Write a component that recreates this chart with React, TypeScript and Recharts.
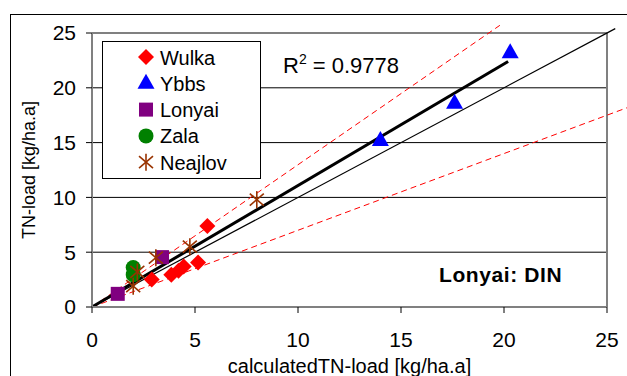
import React from "react";
import { ScatterChart, Scatter, XAxis, YAxis, CartesianGrid, ReferenceLine } from "recharts";

const FONT = "'Liberation Sans', Arial, sans-serif";

const xTicks = [0, 5, 10, 15, 20, 25];
const yTicks = [0, 5, 10, 15, 20, 25];

const wulkaX = [5.6, 5.15, 4.45, 4.2, 3.85, 2.9];
const wulkaY = [7.4, 4.05, 3.7, 3.3, 2.95, 2.5];
const ybbsX = [14.0, 17.6, 20.3];
const ybbsY = [15.2, 18.6, 23.2];
const lonyaiX = [1.25, 3.4];
const lonyaiY = [1.2, 4.55];
const zalaX = [2.0, 2.0];
const zalaY = [3.6, 2.95];
const neajlovX = [8.0, 4.75, 3.1, 2.2, 2.0];
const neajlovY = [9.8, 5.5, 4.5, 3.2, 1.9];

// line end points [x0, x1], [y0, y1]
const trendX = [0, 20.2];
const trendY = [0, 22.4];
const oneX = [0, 25.4];
const oneY = [0, 25.4];
const upperX = [0, 19.8];
const upperY = [0, 25.7];
const lowerX = [0, 26.0];
const lowerY = [0, 18.2];

const rSquared = "0.9778";

const pts = (xs: number[], ys: number[]) => xs.map((x, i) => ({ x, y: ys[i] }));
const seg = (xs: number[], ys: number[]) => [
  { x: xs[0], y: ys[0] },
  { x: xs[1], y: ys[1] },
];

const Diamond = ({ cx, cy }: any) => (
  <polygon points={`${cx},${cy - 8} ${cx + 8},${cy} ${cx},${cy + 8} ${cx - 8},${cy}`} fill="#ff0000" />
);
const Triangle = ({ cx, cy }: any) => (
  <polygon points={`${cx},${cy - 9.5} ${cx + 8.5},${cy + 5.5} ${cx - 8.5},${cy + 5.5}`} fill="#0000ff" />
);
const Square = ({ cx, cy }: any) => <rect x={cx - 7} y={cy - 7} width={14} height={14} fill="#800080" />;
const Circle = ({ cx, cy }: any) => <circle cx={cx} cy={cy} r={7.5} fill="#008000" />;
const Star = ({ cx, cy }: any) => (
  <g stroke="#993300" strokeWidth={1.6}>
    <line x1={cx - 7} y1={cy - 6} x2={cx + 7} y2={cy + 6} />
    <line x1={cx - 7} y1={cy + 6} x2={cx + 7} y2={cy - 6} />
    <line x1={cx} y1={cy - 8.5} x2={cx} y2={cy + 8.5} />
  </g>
);

const series = [
  { name: "Wulka", data: pts(wulkaX, wulkaY), Shape: Diamond },
  { name: "Ybbs", data: pts(ybbsX, ybbsY), Shape: Triangle },
  { name: "Lonyai", data: pts(lonyaiX, lonyaiY), Shape: Square },
  { name: "Zala", data: pts(zalaX, zalaY), Shape: Circle },
  { name: "Neajlov", data: pts(neajlovX, neajlovY), Shape: Star },
];

export default function App() {
  return (
    <div style={{ position: "absolute", left: 0, top: 0, width: 627, height: 376, background: "#fff", fontFamily: FONT }}>
      <div style={{ position: "absolute", left: 10, top: 14, right: 0, bottom: 0, borderLeft: "1px solid #000", borderTop: "1px solid #000" }} />
      <div style={{ position: "absolute", left: 0, top: 0 }}>
        <ScatterChart width={627} height={376} margin={{ top: 33, right: 20, left: 0, bottom: 0 }}>
          <CartesianGrid vertical={false} stroke="#000" strokeWidth={1} />
          <XAxis
            type="number"
            dataKey="x"
            domain={[0, 25]}
            ticks={xTicks}
            height={69}
            axisLine={{ stroke: "#808080", strokeWidth: 2 }}
            tickLine={{ stroke: "#000" }}
            tickSize={6}
            tickMargin={19}
            tick={{ fontSize: 21, fill: "#000", fontFamily: FONT }}
            label={{ value: "calculatedTN-load [kg/ha.a]", position: "insideBottom", offset: 3, fontSize: 20, fill: "#000", fontFamily: FONT }}
          />
          <YAxis
            type="number"
            dataKey="y"
            domain={[0, 25]}
            ticks={yTicks}
            width={92}
            axisLine={{ stroke: "#808080", strokeWidth: 2 }}
            tickLine={{ stroke: "#000" }}
            tickSize={6}
            tickMargin={10}
            tick={{ fontSize: 21, fill: "#000", fontFamily: FONT }}
            label={{ value: "TN-load [kg/ha.a]", angle: -90, position: "insideLeft", offset: 29, style: { textAnchor: "middle" }, fontSize: 18, fill: "#000", fontFamily: FONT }}
          />
          <ReferenceLine y={25} stroke="#808080" strokeWidth={2} />
          <ReferenceLine x={25} stroke="#808080" strokeWidth={2} />
          {series.map((s) => (
            <Scatter key={s.name} name={s.name} data={s.data} isAnimationActive={false} shape={(p: any) => <s.Shape cx={p.cx} cy={p.cy} />} />
          ))}
          <ReferenceLine segment={seg(upperX, upperY)} stroke="#ff0000" strokeDasharray="6 4" ifOverflow="visible" />
          <ReferenceLine segment={seg(lowerX, lowerY)} stroke="#ff0000" strokeDasharray="6 4" ifOverflow="visible" />
          <ReferenceLine segment={seg(oneX, oneY)} stroke="#000" strokeWidth={1.2} ifOverflow="visible" />
          <ReferenceLine segment={seg(trendX, trendY)} stroke="#000" strokeWidth={3} ifOverflow="visible" />
        </ScatterChart>
      </div>
      <svg width={627} height={376} style={{ position: "absolute", left: 0, top: 0, pointerEvents: "none" }}>
        <rect x={102.5} y={41.5} width={158} height={137} fill="#fff" stroke="#000" strokeWidth={1} />
        {series.map((s, i) => {
          const cy = 57 + i * 26.3;
          return (
            <g key={s.name}>
              <s.Shape cx={146} cy={cy} />
              <text x={160} y={cy + 7.5} fontSize={20} fontFamily={FONT} fill="#000">
                {s.name}
              </text>
            </g>
          );
        })}
        <text x={283} y={73} fontSize={22} fontFamily={FONT} fill="#000">
          R<tspan fontSize={14} dy={-9}>2</tspan>
          <tspan dy={9}>{` = ${rSquared}`}</tspan>
        </text>
        <text x={439} y={282} fontSize={21} fontWeight="bold" letterSpacing={0.6} fontFamily={FONT} fill="#000">
          Lonyai: DIN
        </text>
      </svg>
    </div>
  );
}
